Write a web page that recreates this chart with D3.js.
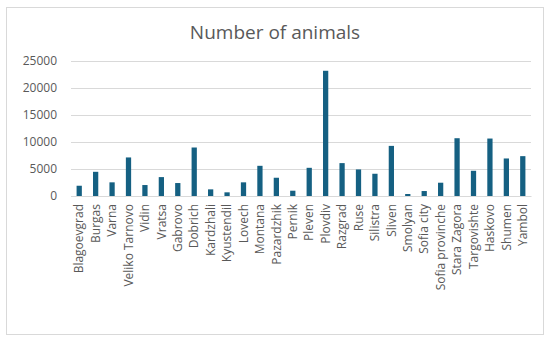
<!DOCTYPE html>
<html>
<head>
<meta charset="utf-8">
<script src="https://cdn.jsdelivr.net/npm/d3@7"></script>
<style>
  body { margin: 0; background: #fff; }
  text { font-family: "Open Sans", "Noto Sans", sans-serif; }
</style>
</head>
<body>
<svg id="chart"></svg>
<script>
// Regions and counts
const regions = ["Blagoevgrad", "Burgas", "Varna", "Veliko Tarnovo", "Vidin", "Vratsa", "Gabrovo",
  "Dobrich", "Kardzhali", "Kyustendil", "Lovech", "Montana", "Pazardzhik", "Pernik", "Pleven",
  "Plovdiv", "Razgrad", "Ruse", "Silistra", "Sliven", "Smolyan", "Sofia city", "Sofia provinche",
  "Stara Zagora", "Targovishte", "Haskovo", "Shumen", "Yambol"];
const animals = [1900, 4480, 2530, 7140, 2030, 3500, 2400, 8980, 1230, 680, 2530, 5590, 3380, 980,
  5220, 23190, 6090, 4920, 4120, 9280, 370, 920, 2460, 10700, 4670, 10640, 6950, 7380];
const yTicks = [0, 5000, 10000, 15000, 20000, 25000];

const W = 550, H = 341;
const margin = { top: 61, right: 19, bottom: 145, left: 71 };
const width = W - margin.left - margin.right,
  height = H - margin.top - margin.bottom;

const svg = d3.select("#chart").attr("width", W).attr("height", H);

// outer frame
svg.append("rect")
  .attr("x", 6.5).attr("y", 7.5)
  .attr("width", 537).attr("height", 327)
  .attr("fill", "#fff").attr("stroke", "#d9d9d9");

svg.append("text")
  .attr("x", W / 2).attr("y", 39)
  .attr("text-anchor", "middle")
  .style("font-size", "19px")
  .style("fill", "#595959")
  .text("Number of animals");

const g = svg.append("g").attr("transform", `translate(${margin.left},${margin.top})`);

const x = d3.scaleBand().domain(regions).range([0, width]).paddingInner(0.68).paddingOuter(0.34);
const y = d3.scaleLinear().domain([0, 25000]).range([height, 0]);

// gridlines
g.selectAll("line.grid")
  .data(yTicks)
  .enter()
  .append("line")
  .attr("class", "grid")
  .attr("x1", 0).attr("x2", width)
  .attr("y1", d => Math.round(y(d)) + 0.5)
  .attr("y2", d => Math.round(y(d)) + 0.5)
  .attr("stroke", "#d9d9d9")
  .attr("stroke-width", 1);

// y axis labels
const yAxis = g.append("g")
  .call(d3.axisLeft(y).tickValues(yTicks).tickSize(0).tickPadding(14).tickFormat(d3.format("d")));
yAxis.select(".domain").remove();
yAxis.selectAll("text").style("font-size", "12px").style("fill", "#595959");

// bars
g.selectAll("rect.bar")
  .data(animals)
  .enter()
  .append("rect")
  .attr("class", "bar")
  .attr("x", (d, i) => x(regions[i]))
  .attr("y", d => y(d))
  .attr("width", x.bandwidth())
  .attr("height", d => height - y(d))
  .attr("fill", "#156082");

// x axis
const xAxis = g.append("g")
  .attr("transform", `translate(0,${height})`)
  .call(d3.axisBottom(x).tickSize(0).tickPadding(0));
xAxis.select(".domain").attr("stroke", "#d9d9d9");
xAxis.selectAll("text")
  .attr("transform", "rotate(-90)")
  .attr("x", -8)
  .attr("y", 0)
  .attr("dy", "0.35em")
  .attr("text-anchor", "end")
  .style("font-size", "12px")
  .style("fill", "#595959");
</script>
</body>
</html>
